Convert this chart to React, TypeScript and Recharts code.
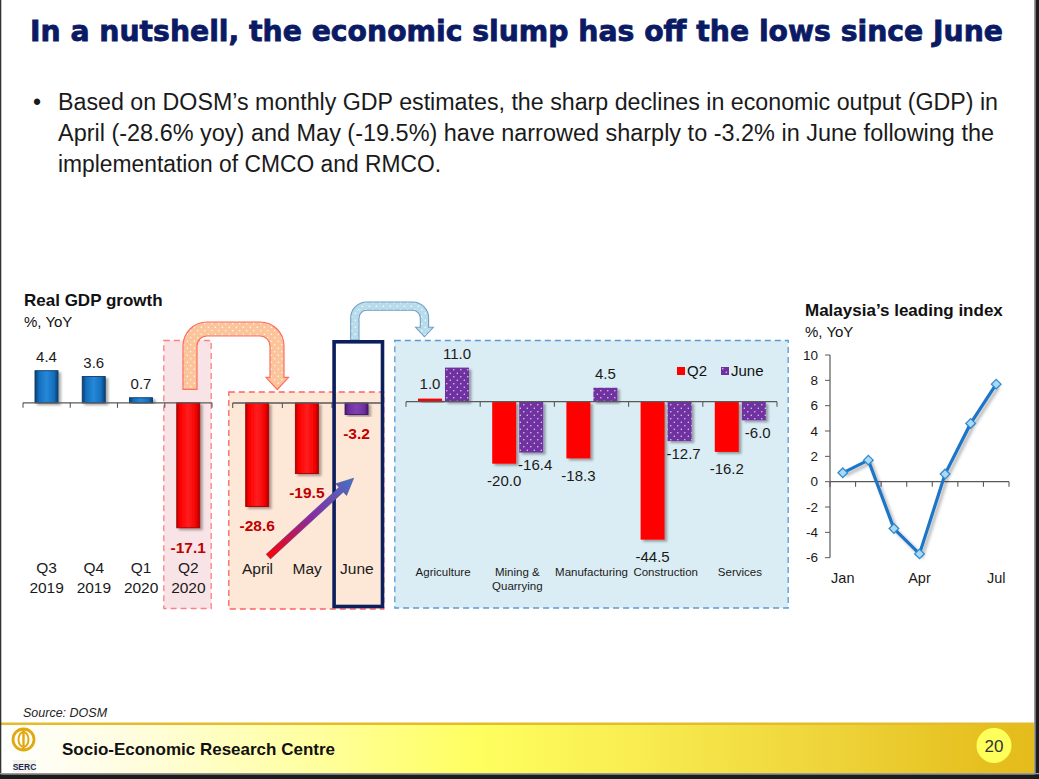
import React from 'react';
import { BarChart, Bar, XAxis, YAxis, Cell, LabelList, ReferenceLine, LineChart, Line, Legend } from 'recharts';

const FONT = '"Liberation Sans", Arial, Helvetica, sans-serif';

// ---------- data ----------
const quarterCategories = ['Q3 2019', 'Q4 2019', 'Q1 2020', 'Q2 2020'];
const quarterGrowth = [4.4, 3.6, 0.7, -17.1];

const monthCategories = ['April', 'May', 'June'];
const monthGrowth = [-28.6, -19.5, -3.2];

const sectorCategories = ['Agriculture', 'Mining &\nQuarrying', 'Manufacturing', 'Construction', 'Services'];
const sectorQ2 = [1.0, -20.0, -18.3, -44.5, -16.2];
const sectorJune = [11.0, -16.4, 4.5, -12.7, -6.0];
const sectorSeriesOrder = ['Q2', 'June'];

const leadingMonths = ['Jan', 'Feb', 'Mar', 'Apr', 'May', 'Jun', 'Jul'];
const leadingIndex = [0.7, 1.7, -3.7, -5.7, 0.6, 4.6, 7.7];
const leadingTicks = [-6, -4, -2, 0, 2, 4, 6, 8, 10];

const titleText = 'In a nutshell, the economic slump has off the lows since June';
const bulletLines = [
  'Based on DOSM\u2019s monthly GDP estimates, the sharp declines in economic output (GDP) in',
  'April (-28.6% yoy) and May (-19.5%) have narrowed sharply to -3.2% in June following the',
  'implementation of CMCO and RMCO.',
];

const quarterData = quarterCategories.map((c, i) => ({ cat: c, v: quarterGrowth[i] }));
const monthData = monthCategories.map((c, i) => ({ cat: c, v: monthGrowth[i] }));
const sectorData = sectorCategories.map((c, i) => ({ cat: c, q2: sectorQ2[i], june: sectorJune[i] }));
const leadingData = leadingMonths.map((m, i) => ({ m, v: leadingIndex[i] }));

// ---------- helpers ----------
const rectOf = (p: any) => {
  const vb = p.viewBox && p.viewBox.width != null ? p.viewBox : p;
  const x = Number(vb.x), y = Number(vb.y), w = Number(vb.width), h = Number(vb.height);
  return { x, w, top: Math.min(y, y + h), bottom: Math.max(y, y + h) };
};

function valueLabel(o: { size: number; posColor: string; negColor: string; negBold: boolean; posGap: number; negGap: number; negDx?: number; negSize?: number }) {
  return (p: any) => {
    const v = Number(p.value);
    const r = rectOf(p);
    if (!isFinite(r.x)) return null;
    const cx = r.x + r.w / 2;
    const neg = v < 0;
    return (
      <text
        x={cx + (neg ? o.negDx || 0 : 0)}
        y={neg ? r.bottom + o.negGap : r.top - o.posGap}
        textAnchor="middle"
        dominantBaseline="central"
        fontFamily={FONT}
        fontSize={neg && o.negSize ? o.negSize : o.size}
        fontWeight={neg && o.negBold ? 'bold' : 'normal'}
        fill={neg ? o.negColor : o.posColor}
      >
        {v.toFixed(1)}
      </text>
    );
  };
}

const BarShape = (p: any) => {
  const x = Number(p.x), y = Number(p.y), w = Number(p.width), h = Number(p.height);
  if (!isFinite(x) || !isFinite(y) || !isFinite(h)) return null;
  const top = Math.min(y, y + h);
  return (
    <rect
      x={x}
      y={top}
      width={w}
      height={Math.abs(h)}
      fill={p.fill}
      stroke={p.stroke || 'none'}
      strokeWidth={p.stroke ? 0.9 : 0}
      filter="url(#barShadow)"
    />
  );
};

const zeroAxis = (n: number, color = '#595959') => (p: any) => {
  const x1 = Number(p.x1), x2 = Number(p.x2), y = Number(p.y1);
  const ticks = [];
  for (let i = 0; i <= n; i++) {
    const x = x1 + ((x2 - x1) * i) / n;
    ticks.push(<line key={i} x1={x} x2={x} y1={y} y2={y + 5} stroke={color} strokeWidth={1.1} />);
  }
  return (
    <g>
      <line x1={x1} x2={x2} y1={y} y2={y} stroke={color} strokeWidth={1.3} />
      {ticks}
    </g>
  );
};

const catTick = (size: number, offs: number[], color = '#1a1a1a', splitter: string | RegExp = '\n') => (p: any) => {
  const parts = String(p.payload && p.payload.value).split(splitter);
  return (
    <g>
      {parts.map((t, i) => (
        <text key={i} x={p.x} y={Number(p.y) + offs[i]} textAnchor="middle" dominantBaseline="central" fontFamily={FONT} fontSize={size} fill={color}>
          {t}
        </text>
      ))}
    </g>
  );
};

const Diamond = (p: any) => {
  const { cx, cy, index } = p;
  if (cx == null || cy == null) return null;
  const r = 4.8;
  return (
    <path
      key={index}
      d={`M${cx},${cy - r}L${cx + r},${cy}L${cx},${cy + r}L${cx - r},${cy}Z`}
      fill="#a9d9f3"
      stroke="#2f88cf"
      strokeWidth={1.3}
    />
  );
};

const SectorLegend = (props: any) => {
  const items = [...(props.payload || [])].sort(
    (a: any, b: any) => sectorSeriesOrder.indexOf(String(a.value)) - sectorSeriesOrder.indexOf(String(b.value))
  );
  return (
    <div style={{ display: 'flex', alignItems: 'center', fontFamily: FONT, fontSize: 15, color: '#111', whiteSpace: 'nowrap', lineHeight: '17px' }}>
      {items.map((it: any, i: number) => (
        <span key={i} style={{ display: 'inline-flex', alignItems: 'center', marginLeft: i ? 14 : 0 }}>
          <svg width={8} height={8} style={{ marginRight: 2 }}>
            <rect width={8} height={8} fill={it.color} />
          </svg>
          {it.value}
        </span>
      ))}
    </div>
  );
};

// ---------- shared defs ----------
const GlobalDefs = () => (
  <svg width={0} height={0} style={{ position: 'absolute', left: 0, top: 0 }}>
    <defs>
      <linearGradient id="gBlue" x1="0" y1="0" x2="1" y2="0">
        <stop offset="0" stopColor="#0a3f72" />
        <stop offset="0.18" stopColor="#146fbe" />
        <stop offset="0.5" stopColor="#2589d8" />
        <stop offset="0.82" stopColor="#146fbe" />
        <stop offset="1" stopColor="#0a3f72" />
      </linearGradient>
      <linearGradient id="gRed" x1="0" y1="0" x2="1" y2="0">
        <stop offset="0" stopColor="#b80000" />
        <stop offset="0.15" stopColor="#ff0000" />
        <stop offset="0.5" stopColor="#ff1e1e" />
        <stop offset="0.85" stopColor="#f20000" />
        <stop offset="1" stopColor="#a80000" />
      </linearGradient>
      <linearGradient id="gPurple" x1="0" y1="0" x2="1" y2="0">
        <stop offset="0" stopColor="#4b1a75" />
        <stop offset="0.18" stopColor="#7030a0" />
        <stop offset="0.5" stopColor="#8040b2" />
        <stop offset="0.82" stopColor="#7030a0" />
        <stop offset="1" stopColor="#4b1a75" />
      </linearGradient>
      <filter id="barShadow" x="-30%" y="-10%" width="170%" height="130%">
        <feDropShadow dx="2.5" dy="2" stdDeviation="1.3" floodColor="#000" floodOpacity="0.33" />
      </filter>
      <filter id="lineShadow" x="-20%" y="-20%" width="140%" height="140%">
        <feDropShadow dx="2.5" dy="2.5" stdDeviation="1.6" floodColor="#000" floodOpacity="0.3" />
      </filter>
      <pattern id="dotsPurple" patternUnits="userSpaceOnUse" width="7" height="7">
        <rect width="7" height="7" fill="#7030a0" />
        <circle cx="1.8" cy="1.8" r="0.75" fill="#e4d2f4" />
        <circle cx="5.3" cy="5.3" r="0.75" fill="#e4d2f4" />
      </pattern>
      <pattern id="dotsOrange" patternUnits="userSpaceOnUse" width="7" height="7">
        <rect width="7" height="7" fill="#fbc49a" />
        <circle cx="1.8" cy="1.8" r="0.7" fill="#ffffff" />
        <circle cx="5.3" cy="5.3" r="0.7" fill="#ffffff" />
      </pattern>
      <pattern id="dotsBlue" patternUnits="userSpaceOnUse" width="7" height="7">
        <rect width="7" height="7" fill="#b8dcea" />
        <circle cx="1.8" cy="1.8" r="0.7" fill="#ffffff" />
        <circle cx="5.3" cy="5.3" r="0.7" fill="#ffffff" />
      </pattern>
      <linearGradient id="arrowGrad" x1="0" y1="0" x2="1" y2="0">
        <stop offset="0" stopColor="#ff0000" />
        <stop offset="0.5" stopColor="#8a2aa0" />
        <stop offset="1" stopColor="#4472c4" />
      </linearGradient>
      <linearGradient id="footerGrad" x1="0" y1="0" x2="1" y2="0">
        <stop offset="0" stopColor="#ffffff" />
        <stop offset="0.12" stopColor="#fffde0" />
        <stop offset="0.3" stopColor="#ffffa0" />
        <stop offset="0.46" stopColor="#ffff60" />
        <stop offset="0.62" stopColor="#f8ec50" />
        <stop offset="0.8" stopColor="#eed43a" />
        <stop offset="0.95" stopColor="#e6c020" />
        <stop offset="1" stopColor="#e4bc1c" />
      </linearGradient>
    </defs>
  </svg>
);

// ---------- background ----------
const Background = () => (
  <svg width={1039} height={779} style={{ position: 'absolute', left: 0, top: 0 }}>
    <rect x={0} y={0} width={1039} height={779} fill="#ffffff" />
    <rect x={163.8} y={340.5} width={47.4} height={268} fill="#f8e4e6" stroke="#ff8080" strokeWidth={1.3} strokeDasharray="6 4" />
    <rect x={228.8} y={392} width={155} height={217} fill="#fde7d7" stroke="#ff6262" strokeWidth={1.3} strokeDasharray="6 4" />
    <rect x={394.8} y={340.5} width={393.4} height={267.5} fill="#daedf4" stroke="#5b9bd5" strokeWidth={1.3} strokeDasharray="6 4" />
    {/* footer */}
    <rect x={1} y={722.5} width={1033} height={2.6} fill="#e3bc2c" />
    <rect x={1} y={725} width={1033} height={48} fill="url(#footerGrad)" />
    <circle cx={994} cy={745.5} r={17.5} fill="#ffff5c" />
    {/* frame */}
    <rect x={0} y={0} width={1.3} height={779} fill="#333" />
    <rect x={1034} y={0} width={1.5} height={779} fill="#9a9a9a" />
    <rect x={1035.5} y={0} width={3.5} height={779} fill="#1c1c1c" />
    <rect x={0} y={773} width={1039} height={1.5} fill="#9a9a9a" />
    <rect x={0} y={774.5} width={1039} height={4.5} fill="#1c1c1c" />
  </svg>
);

// ---------- overlay ----------
const Overlay = () => (
  <svg width={1039} height={779} style={{ position: 'absolute', left: 0, top: 0, pointerEvents: 'none' }}>
    <text x={30} y={31.5} dominantBaseline="central" fontFamily='"DejaVu Sans", "Liberation Sans", sans-serif' fontWeight="bold" fontSize={28} textLength={973} lengthAdjust="spacingAndGlyphs" fill="#0a1a64" stroke="#0a1a64" strokeWidth={0.8}>
      {titleText}
    </text>
    <text x={37} y={102} textAnchor="middle" dominantBaseline="central" fontFamily={FONT} fontSize={23} fill="#1a1a1a">{'\u2022'}</text>
    {bulletLines.map((t, i) => (
      <text key={i} x={58} y={102 + i * 31} dominantBaseline="central" fontFamily={FONT} fontSize={23} fill="#1a1a1a" textLength={[940, 936, 383][i]} lengthAdjust="spacingAndGlyphs">
        {t}
      </text>
    ))}

    <text x={24} y={300.7} dominantBaseline="central" fontFamily={FONT} fontWeight="bold" fontSize={17} fill="#111">Real GDP growth</text>
    <text x={24} y={321.7} dominantBaseline="central" fontFamily={FONT} fontSize={15} fill="#111">%, YoY</text>
    <text x={805} y={310.7} dominantBaseline="central" fontFamily={FONT} fontWeight="bold" fontSize={17} fill="#111">Malaysia{'\u2019'}s leading index</text>
    <text x={805} y={331.7} dominantBaseline="central" fontFamily={FONT} fontSize={15} fill="#111">%, YoY</text>

    {/* orange U-turn arrow */}
    <path
      d="M183,389.3 L183,346 A24,24 0 0 1 207,322 L260,322 A24,24 0 0 1 284,346 L284,377.3 L288.5,377.3 L277.3,389.5 L266,377.3 L270,377.3 L270,346 A10,10 0 0 0 260,336 L207,336 A10,10 0 0 0 197,346 L197,389.3 Z"
      fill="url(#dotsOrange)"
      stroke="#ff6f5e"
      strokeWidth={1.2}
    />
    {/* blue U-turn arrow */}
    <path
      d="M350.7,340 L350.7,318 A16,16 0 0 1 366.7,302 L412.6,302 A16,16 0 0 1 428.6,318 L428.6,327.3 L433.3,327.3 L424.4,336.8 L415.6,327.3 L420.3,327.3 L420.3,318 A7.7,7.7 0 0 0 412.6,310.3 L366.7,310.3 A7.7,7.7 0 0 0 359,318 L359,340 Z"
      fill="url(#dotsBlue)"
      stroke="#6f9fc6"
      strokeWidth={1.1}
    />
    {/* navy highlight box */}
    <rect x={334.1} y={341.8} width={48.4} height={264.7} fill="none" stroke="#0c1f5c" strokeWidth={3.6} />
    {/* gradient arrow */}
    <g transform="translate(268.3,556.7) rotate(-42.6)">
      <path d="M0,-3.2 L99,-3.2 L99,-8 L116,0 L99,8 L99,3.2 L0,3.2 Z" fill="url(#arrowGrad)" stroke="#3d4f9a" strokeWidth={0.5} />
    </g>

    {/* footer */}
    <text x={23} y={712.5} dominantBaseline="central" fontFamily={FONT} fontStyle="italic" fontSize={12.5} fill="#222">Source:  DOSM</text>
    <circle cx={23.5} cy={739.5} r={10.5} fill="none" stroke="#e2a812" strokeWidth={2.8} />
    <ellipse cx={23.5} cy={739.5} rx={5} ry={7.5} fill="none" stroke="#e2a812" strokeWidth={2} />
    <line x1={23.5} x2={23.5} y1={728} y2={751} stroke="#e2a812" strokeWidth={2.4} />
    <rect x={13} y={760} width={23} height={12} fill="#f4f1e8" />
    <text x={24.5} y={766.5} textAnchor="middle" dominantBaseline="central" fontFamily={FONT} fontWeight="bold" fontSize={8.5} fill="#1a2a5a">SERC</text>
    <text x={62} y={749} dominantBaseline="central" fontFamily={FONT} fontWeight="bold" fontSize={17} fill="#111">Socio-Economic Research Centre</text>
    <text x={994} y={746} textAnchor="middle" dominantBaseline="central" fontFamily={FONT} fontSize={17} fill="#333">20</text>
  </svg>
);

// ---------- charts ----------
const QuarterChart = () => (
  <BarChart width={230} height={330} data={quarterData} margin={{ top: 79, right: 18, bottom: 31, left: 23 }} barSize={23}>
    <XAxis dataKey="cat" axisLine={false} tickLine={false} tickSize={0} tickMargin={0} height={30} interval={0} tick={catTick(15.5, [18, 38], '#1a1a1a', ' ')} />
    <YAxis hide domain={[-20, 6]} />
    <Bar dataKey="v" isAnimationActive={false} shape={BarShape}>
      {quarterData.map((d, i) => (
        <Cell key={i} fill={d.v < 0 ? 'url(#gRed)' : 'url(#gBlue)'} stroke={d.v < 0 ? '#a00000' : '#0a3a68'} />
      ))}
      <LabelList dataKey="v" content={valueLabel({ size: 15, negSize: 15.5, posColor: '#1a1a1a', negColor: '#c00000', negBold: true, posGap: 14, negGap: 20 })} />
    </Bar>
    <ReferenceLine y={0} shape={zeroAxis(4)} />
  </BarChart>
);

const MonthChart = () => (
  <BarChart width={160} height={330} data={monthData} margin={{ top: 86.8, right: 6.3, bottom: 32.2, left: 4.7 }} barSize={23}>
    <XAxis dataKey="cat" axisLine={false} tickLine={false} tickSize={0} tickMargin={0} height={30} interval={0} tick={catTick(15.5, [21])} />
    <YAxis hide domain={[-40, 10]} />
    <Bar dataKey="v" isAnimationActive={false} shape={BarShape}>
      {monthData.map((d, i) => (
        <Cell key={i} fill={i === monthData.length - 1 ? 'url(#gPurple)' : 'url(#gRed)'} stroke={i === monthData.length - 1 ? '#3e1260' : '#a00000'} />
      ))}
      <LabelList dataKey="v" content={valueLabel({ size: 15.5, posColor: '#1a1a1a', negColor: '#c00000', negBold: true, posGap: 14, negGap: 19 })} />
    </Bar>
    <ReferenceLine y={0} shape={zeroAxis(3)} />
  </BarChart>
);

const SectorChart = () => (
  <BarChart width={392} height={268} data={sectorData} margin={{ top: 15.2, right: 11, bottom: 21.3, left: 10 }} barSize={24} barGap={3}>
    <XAxis dataKey="cat" axisLine={false} tickLine={false} tickSize={0} tickMargin={0} height={30} interval={0} tick={catTick(11.5, [15, 29.3])} />
    <YAxis hide domain={[-50, 15]} />
    <Legend
      layout="horizontal"
      verticalAlign="middle"
      align="center"
      wrapperStyle={{ left: 281, top: 22, width: 110, height: 18 }}
      content={SectorLegend}
    />
    <Bar dataKey="q2" name="Q2" fill="#ff0000" isAnimationActive={false} shape={BarShape}>
      <LabelList dataKey="q2" content={valueLabel({ size: 15, posColor: '#1a1a1a', negColor: '#1a1a1a', negBold: false, posGap: 15, negGap: 17 })} />
    </Bar>
    <Bar dataKey="june" name="June" fill="url(#dotsPurple)" isAnimationActive={false} shape={BarShape}>
      <LabelList dataKey="june" content={valueLabel({ size: 15, posColor: '#1a1a1a', negColor: '#1a1a1a', negBold: false, posGap: 14, negGap: 12, negDx: 4 })} />
    </Bar>
    <ReferenceLine y={0} shape={zeroAxis(5)} />
  </BarChart>
);

const LeadingChart = () => (
  <LineChart width={240} height={260} data={leadingData} margin={{ top: 15, right: 21, bottom: 17.3, left: 10 }}>
    <XAxis dataKey="m" scale="band" axisLine={false} tickLine={false} tickSize={0} tickMargin={0} height={25} interval={2} tick={catTick(14.5, [20])} />
    <YAxis
      domain={[-6, 10]}
      ticks={leadingTicks}
      interval={0}
      width={30}
      axisLine={{ stroke: '#595959', strokeWidth: 1.2 }}
      tickLine={{ stroke: '#595959' }}
      tickSize={5}
      tickMargin={7}
      tick={{ fontSize: 13.5, fill: '#1a1a1a', fontFamily: FONT }}
    />
    <ReferenceLine y={0} shape={zeroAxis(7)} />
    <Line
      dataKey="v"
      type="linear"
      stroke="#1b75c6"
      strokeWidth={3.2}
      dot={Diamond}
      activeDot={false}
      isAnimationActive={false}
      filter="url(#lineShadow)"
    />
  </LineChart>
);

export default function App() {
  return (
    <div style={{ position: 'absolute', left: 0, top: 0, width: 1039, height: 779, background: '#fff', overflow: 'hidden', fontFamily: FONT }}>
      <GlobalDefs />
      <Background />
      <div style={{ position: 'absolute', left: 0, top: 280 }}>
        <QuarterChart />
      </div>
      <div style={{ position: 'absolute', left: 228, top: 280 }}>
        <MonthChart />
      </div>
      <div style={{ position: 'absolute', left: 396, top: 340 }}>
        <SectorChart />
      </div>
      <div style={{ position: 'absolute', left: 790, top: 340 }}>
        <LeadingChart />
      </div>
      <Overlay />
    </div>
  );
}
